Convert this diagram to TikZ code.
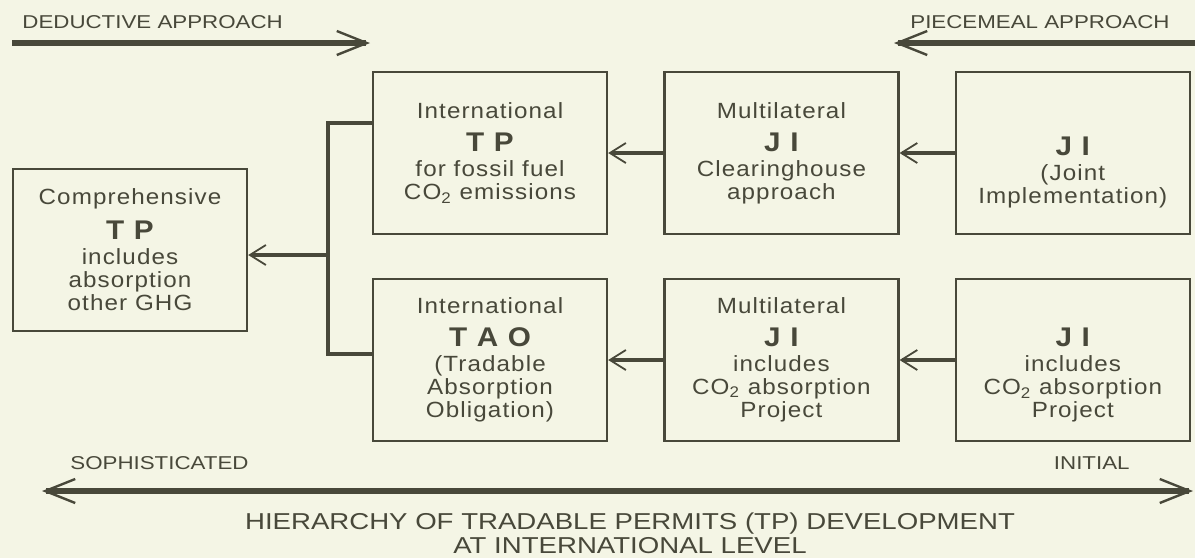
\documentclass[tikz,border=0pt]{standalone}
\usepackage{fontspec}
\setmainfont{Liberation Sans}
\newfontfamily\boxfont[FakeStretch=1.1,LetterSpace=5]{Liberation Sans}
\newfontfamily\capfont[FakeStretch=1.2]{Liberation Sans}
\usetikzlibrary{chains,arrows.meta}
\definecolor{ink}{RGB}{72,72,58}
\definecolor{paper}{RGB}{244,245,229}
\newcommand\bigid[1]{{\fontsize{13.5}{14}\selectfont\bfseries #1}}

\begin{document}
\begin{tikzpicture}[
x=1pt, y=1pt,
node distance=27.5pt,
    X/.style = {rectangle, draw=ink, line width=1.2pt,% boxes of the two rows
                minimum width=117pt, minimum height=81pt,
                align=center, text=ink, inner sep=2pt,
                font=\boxfont\fontsize{11}{11.5}\selectfont},
    L/.style = {draw=ink, line width=1.8pt,% connectors between boxes
                -{Straight Barb[length=8pt,width=10pt,line width=0.9pt]}},
    M/.style = {draw=ink, line width=3pt,% long arrows of the frame
                -{Straight Barb[length=15pt,width=12pt,line width=1.2pt]}},
    T/.style = {text=ink, inner sep=0pt, font=\capfont\fontsize{9.3}{12}\selectfont},
                        ]
\fill[paper] (0,0) rectangle (597.5,-279);
\useasboundingbox (0,0) rectangle (597.5,-279);

% approaches
\node[T, anchor=west] (ded) at (11,-11.2) {DEDUCTIVE APPROACH};
\node[T, anchor=east] (pie) at (585,-11.2) {PIECEMEAL APPROACH};
\coordinate (d1) at (6,-21.5);
\coordinate (d2) at (185,-21.5);
\coordinate (p1) at (597.5,-21.5);
\coordinate (p2) at (447,-21.5);
\draw[M] (d1) -- (d2);
\draw[M] (p1) -- (p2);

% upper row
\begin{scope}[start chain = T going right]
\node[X, on chain] at (245,-76.5) {International\\[5pt] \bigid{T P}\\[1pt] for fossil fuel\\ CO\textsubscript{2} emissions};
\node[X, on chain] {Multilateral\\[5pt] \bigid{J I}\\[1pt] Clearinghouse\\ approach};
\node[X, on chain] {\mbox{}\\[17pt] \bigid{J I}\\[1pt] (Joint\\ Implementation)};
\end{scope}

% lower row
\begin{scope}[start chain = B going right]
\node[X, on chain] at (245,-180) {International\\[5pt] \bigid{T A O}\\[1pt] (Tradable\\ Absorption\\ Obligation)};
\node[X, on chain] {Multilateral\\[5pt] \bigid{J I}\\[1pt] includes\\ CO\textsubscript{2} absorption\\ Project};
\node[X, on chain] {\mbox{}\\[13pt] \bigid{J I}\\[1pt] includes\\ CO\textsubscript{2} absorption\\ Project};
\end{scope}

\node[X] (comp) at (65,-125) {Comprehensive\\[5pt] \bigid{T P}\\[1pt] includes\\ absorption\\ other GHG};

\draw[L] (T-3) -- (T-2);
\draw[L] (T-2) -- (T-1);
\draw[L] (B-3) -- (B-2);
\draw[L] (B-2) -- (B-1);

\coordinate (J) at (164,-127.5);
\draw[L, -] ([yshift=15pt]T-1.west) -| (J) |- ([yshift=3pt]B-1.west);
\draw[L] (J) -- (J -| comp.east);

% hierarchy
\node[T, anchor=west] (sop) at (35,-231.5) {SOPHISTICATED};
\node[T, anchor=east] (ini) at (565,-231.5) {INITIAL};
\coordinate (s1) at (21,-245.5);
\coordinate (s2) at (596.5,-245.5);
\draw[M, {Straight Barb[length=15pt,width=12pt,line width=1.2pt]}-{Straight Barb[length=15pt,width=12pt,line width=1.2pt]}] (s1) -- (s2);
\node[T, align=center, font=\capfont\fontsize{11.5}{12}\selectfont] (tit) at (315,-266.5)
    {HIERARCHY OF TRADABLE PERMITS (TP) DEVELOPMENT\\ AT INTERNATIONAL LEVEL};
\end{tikzpicture}
\end{document}
